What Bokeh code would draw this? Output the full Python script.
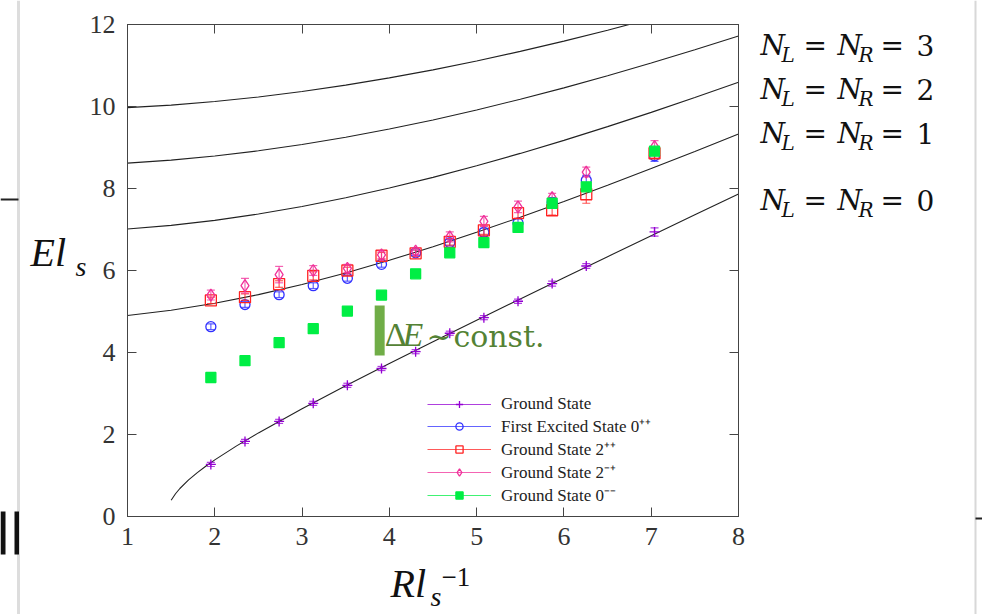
from bokeh.plotting import figure
from bokeh.layouts import row, column
from bokeh.models import (ColumnDataSource, Range1d, LinearAxis, Label, Legend,
                          LegendItem, FixedTicker, BoxAnnotation, Span)
from bokeh.embed import file_html
from bokeh.resources import INLINE

# ---------------- data ----------------
R = [1.955, 2.346, 2.737, 3.128, 3.519, 3.910, 4.301, 4.692, 5.083, 5.474, 5.865, 6.256, 7.038]

ground_E   = [1.27, 1.83, 2.32, 2.76, 3.20, 3.61, 4.02, 4.47, 4.85, 5.25, 5.68, 6.11, 6.94]
ground_err = [0.05, 0.05, 0.05, 0.05, 0.05, 0.05, 0.05, 0.05, 0.05, 0.05, 0.06, 0.06, 0.10]

exc0pp_E   = [4.63, 5.17, 5.41, 5.63, 5.81, 6.15, 6.43, 6.68, 6.93, 7.16, 7.66, 8.20, 8.80]
exc0pp_err = [0.07, 0.07, 0.07, 0.07, 0.07, 0.07, 0.07, 0.08, 0.10, 0.10, 0.12, 0.12, 0.14]

gs2pp_E    = [5.27, 5.35, 5.67, 5.87, 6.00, 6.36, 6.42, 6.70, 6.98, 7.40, 7.47, 7.86, 8.86]
gs2pp_err  = [0.08, 0.08, 0.08, 0.10, 0.08, 0.08, 0.08, 0.08, 0.10, 0.12, 0.12, 0.22, 0.12]

gs2mp_E    = [5.40, 5.63, 5.90, 6.00, 6.05, 6.38, 6.47, 6.82, 7.20, 7.55, 7.78, 8.40, 9.02]
gs2mp_err  = [0.12, 0.18, 0.20, 0.12, 0.10, 0.10, 0.08, 0.12, 0.12, 0.14, 0.10, 0.12, 0.15]

gs0mm_E    = [3.39, 3.80, 4.24, 4.58, 5.01, 5.40, 5.92, 6.43, 6.68, 7.05, 7.64, 8.04, 8.91]
gs0mm_err  = [0.03, 0.03, 0.03, 0.03, 0.03, 0.04, 0.04, 0.05, 0.06, 0.08, 0.10, 0.10, 0.10]

# theory curves
curve_R = [1.0, 1.5, 2.0, 2.5, 3.0, 3.5, 4.0, 4.5, 5.0, 5.5, 6.0, 6.5, 7.0, 7.5, 8.0]
curve_n1 = [4.903, 5.029, 5.200, 5.412, 5.660, 5.941, 6.248, 6.580, 6.931, 7.300, 7.684, 8.080, 8.488, 8.905, 9.330]
curve_n2 = [7.012, 7.101, 7.223, 7.377, 7.561, 7.773, 8.011, 8.272, 8.554, 8.856, 9.174, 9.509, 9.857, 10.219, 10.591]
curve_n3 = [8.620, 8.692, 8.792, 8.919, 9.072, 9.249, 9.450, 9.672, 9.915, 10.176, 10.455, 10.749, 11.059, 11.382, 11.718]
curve_n4_R = [1.0, 1.5, 2.0, 2.5, 3.0, 3.5, 4.0, 4.5, 5.0, 5.5, 6.0, 6.5, 7.0]
curve_n4 = [9.972, 10.034, 10.121, 10.232, 10.365, 10.521, 10.698, 10.894, 11.110, 11.344, 11.595, 11.861, 12.143]
curve0_R = [1.5, 1.55, 1.6, 1.7, 1.8, 1.9, 2.0, 2.25, 2.5, 3.0, 3.5, 4.0, 4.5, 5.0, 5.5, 6.0, 6.5, 7.0, 7.5, 8.0]
curve_n0 = [0.395, 0.555, 0.683, 0.892, 1.071, 1.231, 1.381, 1.723, 2.039, 2.628, 3.187, 3.729, 4.261,
            4.786, 5.306, 5.823, 6.337, 6.849, 7.359, 7.868]

x_ticks = [1, 2, 3, 4, 5, 6, 7, 8]
y_ticks = [0, 2, 4, 6, 8, 10, 12]

series_names = ["Ground State", "First Excited State 0\u207a\u207a", "Ground State 2\u207a\u207a",
                "Ground State 2\u207b\u207a", "Ground State 0\u207b\u207b"]
right_labels = ["3", "2", "1", "0"]

# ---------------- layout constants ----------------
W, H = 982, 614
FL, FR, FT, FB = 125, 738, 24, 516
LEFT_W = 86                      # left strip (y title + slide edge)
RIGHT_X = FR + 20                # start of the right strip
MAIN_H = 560                     # main plot height; x title strip below
X0, X1, Y0, Y1 = 1, 8, 0, 12
SERIF = "Liberation Serif"
MATH = "DejaVu Serif"
AXC = "#444444"


def dx(px):
    return X0 + (px - FL) * (X1 - X0) / (FR - FL)


def dy(py):
    return Y0 + (FB - py) * (Y1 - Y0) / (FB - FT)


def blank_fig(x0, x1, y0, y1):
    f = figure(width=x1 - x0, height=y1 - y0, output_backend="svg", toolbar_location=None,
               x_range=Range1d(x0, x1), y_range=Range1d(y1, y0),
               min_border=0, x_axis_location=None, y_axis_location=None, frame_align=False)
    f.grid.visible = False
    f.outline_line_color = None
    f.background_fill_color = "white"
    f.border_fill_color = "white"
    return f


def box(fig, l, r, t, b, color):
    fig.add_layout(BoxAnnotation(left=l, right=r, top=t, bottom=b, fill_color=color,
                                 fill_alpha=1, line_color=None))


# ---------------- main plot ----------------
p = figure(width=RIGHT_X - LEFT_W, height=MAIN_H, output_backend="svg", toolbar_location=None,
           x_range=Range1d(X0, X1), y_range=Range1d(Y0, Y1),
           min_border_left=FL - LEFT_W, min_border_right=RIGHT_X - FR, min_border_top=FT,
           min_border_bottom=MAIN_H - FB, x_axis_location=None, y_axis_location=None,
           frame_align=False)
p.grid.visible = False
p.outline_line_color = AXC
p.outline_line_width = 1
p.background_fill_color = "white"
p.border_fill_color = "white"


def style_axis(ax, ticks, show_labels, standoff=6):
    ax.ticker = FixedTicker(ticks=ticks)
    ax.major_tick_in = 9
    ax.major_tick_out = 0
    ax.minor_tick_in = 0
    ax.minor_tick_out = 0
    ax.axis_line_color = AXC
    ax.major_tick_line_color = AXC
    ax.major_label_text_font = SERIF
    if show_labels:
        ax.major_label_text_font_size = "26px"
        ax.major_label_text_color = "#333333"
        ax.major_label_standoff = standoff
    else:
        ax.major_label_overrides = {t: "" for t in ticks}
        ax.major_label_text_font_size = "1px"
        ax.major_label_standoff = 0


xb = LinearAxis(); style_axis(xb, x_ticks, True, 11)
xt = LinearAxis(); style_axis(xt, x_ticks, False)
yl = LinearAxis(); style_axis(yl, y_ticks, True, 12)
yr = LinearAxis(); style_axis(yr, y_ticks, False)
p.add_layout(xb, "below")
p.add_layout(xt, "above")
p.add_layout(yl, "left")
p.add_layout(yr, "right")

# theory curves
for cx, cy in [(curve_R, curve_n1), (curve_R, curve_n2), (curve_R, curve_n3),
               (curve_n4_R, curve_n4), (curve0_R, curve_n0)]:
    p.line(cx, cy, line_color="#222222", line_width=1.1)

# data series
specs = [
    (ground_E, ground_err, "#9400D3", "cross", 10, False),
    (exc0pp_E, exc0pp_err, "#3030ff", "circle", 10, False),
    (gs2pp_E, gs2pp_err, "#ff2222", "square", 11, False),
    (gs2mp_E, gs2mp_err, "#f0309a", "diamond", 12, False),
    (gs0mm_E, gs0mm_err, "#00ee44", "square", 10, True),
]

items = []
for name, (E, err, col, mk, sz, filled) in zip(series_names, specs):
    lo = [e - d for e, d in zip(E, err)]
    hi = [e + d for e, d in zip(E, err)]
    src = ColumnDataSource(dict(x=R, y=E, lo=lo, hi=hi))
    seg = p.segment(x0="x", y0="lo", x1="x", y1="hi", source=src, line_color=col,
                    line_width=1.2, line_alpha=0.75)
    p.scatter(x="x", y="lo", source=src, marker="dash", size=8, line_color=col, line_alpha=0.75, line_width=1.2)
    p.scatter(x="x", y="hi", source=src, marker="dash", size=8, line_color=col, line_alpha=0.75, line_width=1.2)
    sc = p.scatter(x="x", y="y", source=src, marker=mk, size=sz, line_color=col, line_width=1.3,
                   fill_color=col if filled else None)
    items.append(LegendItem(label=name, renderers=[seg, sc]))

legend = Legend(items=items, location=(300, 10), border_line_color=None,
                background_fill_alpha=0, label_text_font=SERIF, label_text_font_size="17px",
                label_text_line_height=1.0, label_text_color="#222222",
                glyph_width=64, glyph_height=18, label_height=18,
                spacing=0, padding=0, margin=0, label_standoff=10)
p.add_layout(legend, "center")


def lab(fig, text, x, base_px, size, italic=False, color="#111111", font=SERIF, in_data=False):
    """Place text with its baseline at page pixel row base_px (anchored by its middle)."""
    fs = float(size.replace("px", ""))
    mid = base_px - 0.34 * fs
    fig.add_layout(Label(x=x, y=dy(mid) if in_data else mid, text=text, text_font=font,
                         text_font_style="italic" if italic else "normal",
                         text_font_size=size, text_color=color, text_baseline="middle"))


# green annotation (inside the plot area)
box(p, dx(373), dx(383), dy(305), dy(355), "#70AD47")
GREEN = "#548235"
lab(p, "\u0394", dx(383), 346, "34px", False, GREEN, in_data=True)
lab(p, "E", dx(401), 346, "34px", True, GREEN, in_data=True)
lab(p, "\u223c", dx(425), 346, "30px", False, GREEN, MATH, in_data=True)
lab(p, "const.", dx(452), 346, "30px", False, GREEN, MATH, in_data=True)

# ---------------- left strip: y title + edge of the neighbouring slide ----------------
pl = blank_fig(0, LEFT_W, 0, H)
pl.add_layout(Span(location=18, dimension="height", line_color="#dddddd", line_width=3))
box(pl, 0, 5, 511, 554, "#111111")
box(pl, 14, 18.5, 511, 554, "#111111")
box(pl, 0, 18, 198, 200, "#222222")
lab(pl, "El", 30, 266, "40px", True)
lab(pl, "s", 75, 276, "28px", True)

# ---------------- bottom strip: x title ----------------
pb = blank_fig(LEFT_W, RIGHT_X, MAIN_H, H)
lab(pb, "Rl", 390, 597, "40px", True)
lab(pb, "s", 430, 606, "28px", True)
lab(pb, "\u22121", 441, 586, "27px")

# ---------------- right strip: N_L = N_R = n ----------------
pr = blank_fig(RIGHT_X, W, 0, H)
for num, base in zip(right_labels, [55, 99, 143, 210]):
    for txt, px, off, size, ital in [("N", 760, 0, "28px", True), ("L", 781, 6, "20px", True),
                                     ("=", 803, 0, "28px", False), ("N", 837, 0, "28px", True),
                                     ("R", 858, 6, "20px", True), ("=", 880, 0, "28px", False),
                                     (num, 916, 0, "28px", False)]:
        lab(pr, txt, px, base + off, size, ital, "#111111", MATH)
pr.add_layout(Span(location=975, dimension="height", line_color="#d8d8d8", line_width=2))
box(pr, 975, 982, 517, 519, "#222222")

layout = row(pl, column(p, pb, spacing=0), pr, spacing=0)
open("out.html", "w").write(file_html(layout, INLINE))
